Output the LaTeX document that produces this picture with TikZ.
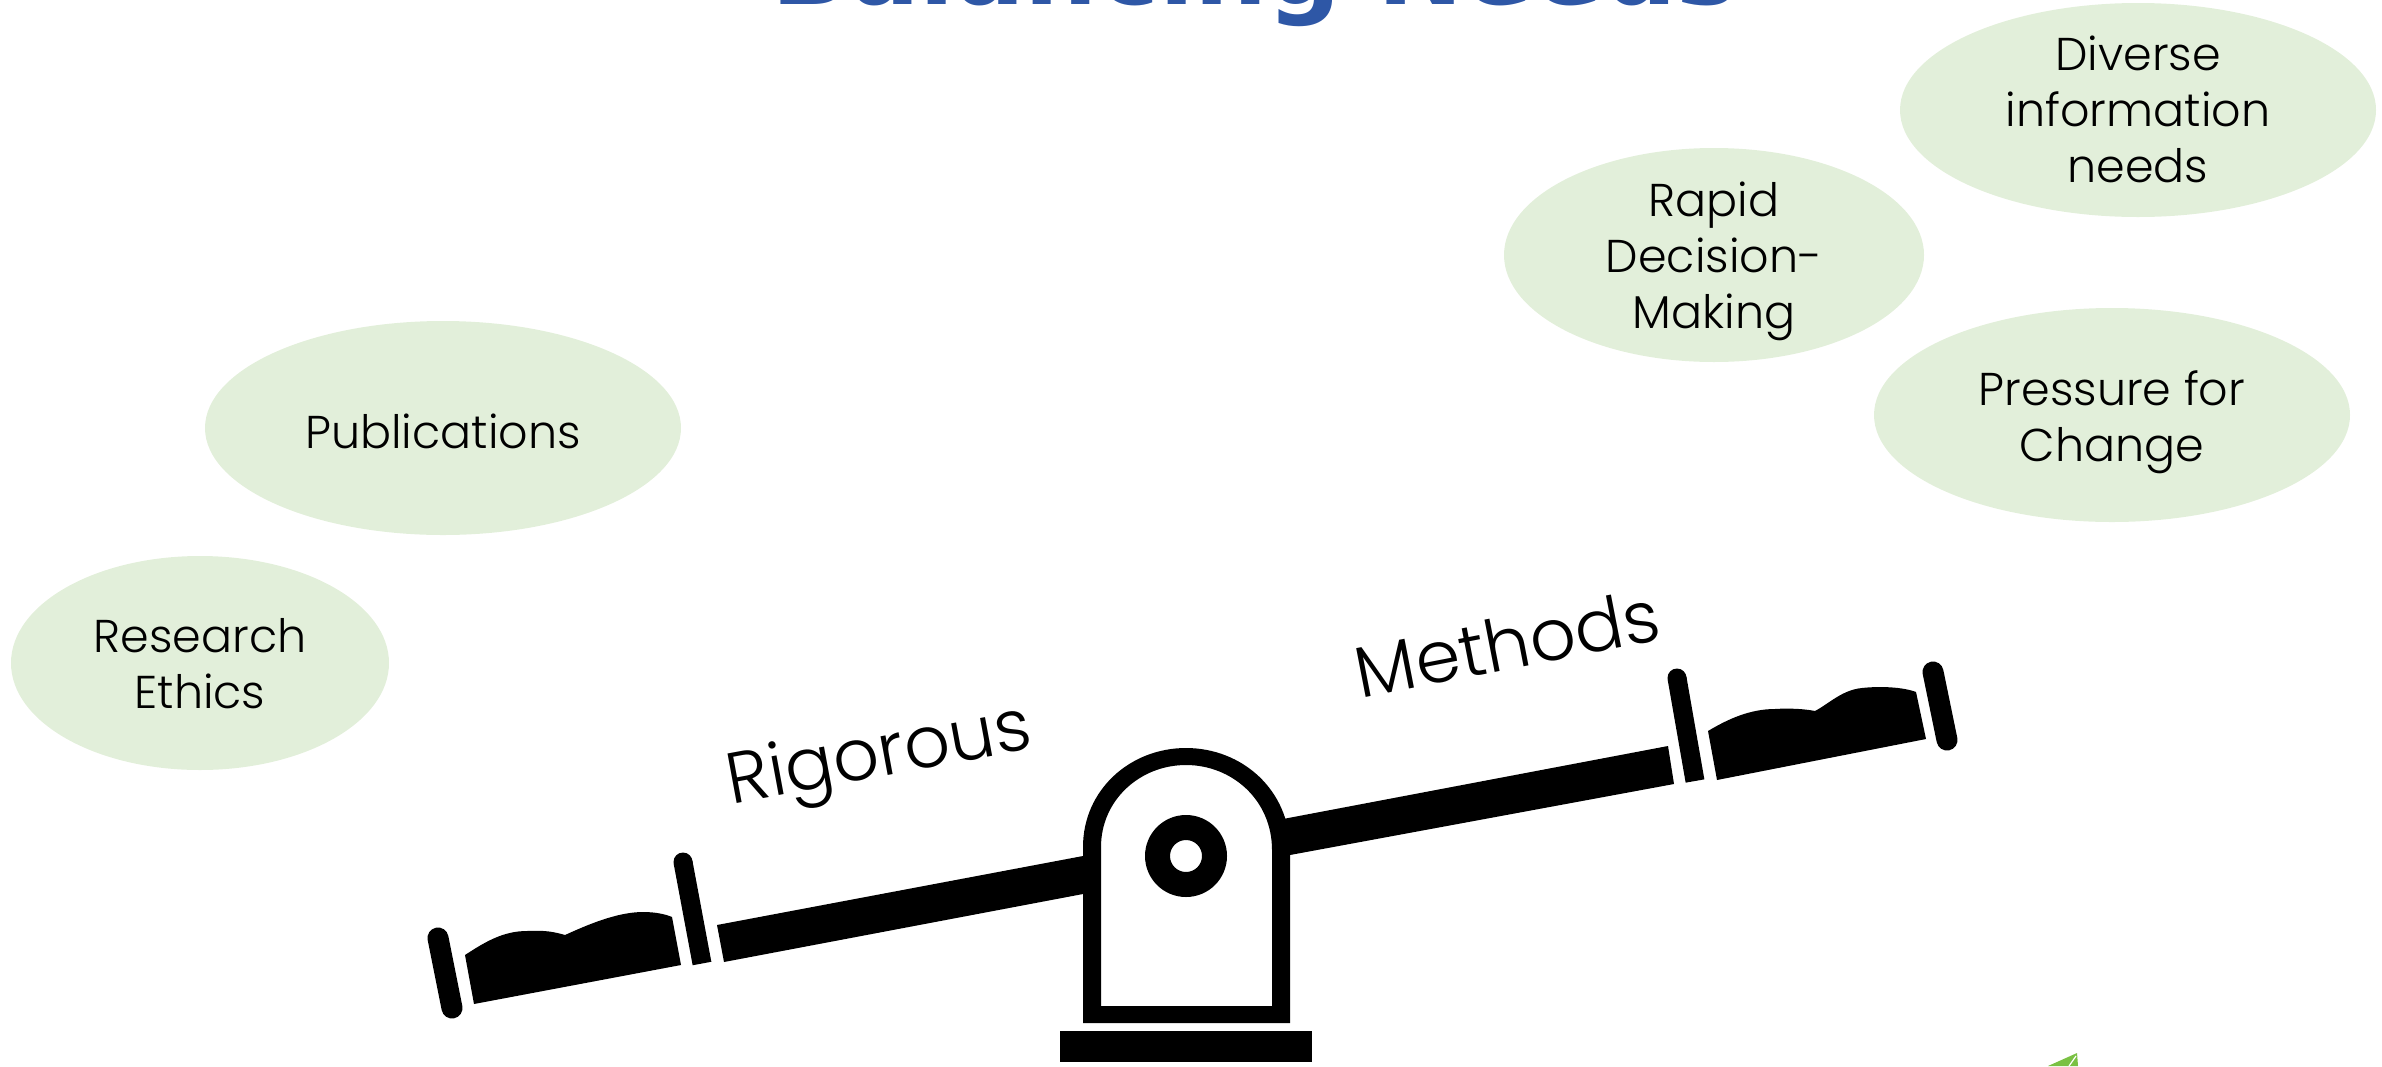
\documentclass[tikz,border=0pt]{standalone}
\usepackage{fontspec}
\setmainfont{Poppins Light}
\newfontfamily\titlefont{DejaVu Sans}
\definecolor{bubble}{HTML}{E2EFDA}
\definecolor{titleblue}{HTML}{2E57A6}
\definecolor{leaf}{HTML}{7AC143}
\newcommand\bubtext[2]{\raisebox{0pt}[\dimexpr\height+#1+#1\relax][\depth]{\begin{tabular}{@{}c@{}}#2\end{tabular}}}
\usetikzlibrary{shapes.geometric}
\tikzset{
  bubble/.style={ellipse,fill=bubble,inner sep=-25pt,minimum height=107pt,align=center,font=\fontsize{23}{28}\selectfont,text=black},
  beamlabel/.style={font=\fontsize{36}{40}\selectfont,text=black},
  rail/.style={line width=10.5pt,line cap=round,black},
  post/.style={line width=9.5pt,black},
}
\begin{document}
\begin{tikzpicture}[x=0.5pt,y=-0.5pt]
\useasboundingbox (0,0) rectangle (2382,1066);
\clip (0,0) rectangle (2382,1066);
\node[anchor=base,font=\titlefont\bfseries\fontsize{51.5}{56}\selectfont,text=titleblue,inner sep=0pt] (title) at (1255,4) {Balancing Needs};
\node[bubble,minimum width=238pt] (pub) at (443,428) {\bubtext{4.5pt}{Publications}};
\node[bubble,minimum width=189pt] (eth) at (200,663) {\bubtext{3pt}{Research\\Ethics}};
\node[bubble,minimum width=210pt] (rap) at (1714,255) {\bubtext{3pt}{Rapid\\Decision-\\Making}};
\node[bubble,minimum width=238pt] (div) at (2138,110) {\bubtext{2.7pt}{Diverse\\information\\needs}};
\node[bubble,minimum width=238pt] (pre) at (2112,415) {\bubtext{3.8pt}{Pressure for\\Change}};
\node[beamlabel,rotate=10.5] (rig) at (880,759) {Rigorous};
\node[beamlabel,rotate=11] (met) at (1507,643) {Methods};
% beam
\fill (717,925) -- (724,962) -- (1083,894) -- (1083,856) -- cycle;
\fill (1283,819) -- (1290,855) -- (1674,784) -- (1668,746) -- cycle;
% pivot
\fill[even odd rule] (1083,1023) -- (1083,847) .. controls (1083,790) and (1130,748) .. (1186,748) .. controls (1242,748) and (1290,790) .. (1290,850) -- (1290,1023) -- cycle
 (1101,1006) -- (1101,847) .. controls (1101,800) and (1140,765) .. (1186,765) .. controls (1232,765) and (1272,800) .. (1272,850) -- (1272,1006) -- cycle;
\fill[even odd rule] (1186,856) circle[radius=41] (1186,856) circle[radius=16];
\fill (1060,1031) rectangle (1312,1062);
% left seat
\draw[rail] (438,938) -- (452,1008);
\fill (465,955) .. controls (485,942) and (503,931) .. (527,931) .. controls (545,930) and (555,932) .. (565,935) .. controls (587,925) and (617,912) .. (643,912) .. controls (655,912) and (665,914) .. (672,917) -- (681,965) -- (474,1004) -- cycle;
\draw[post] (683,862) -- (702,963.5);
\fill (683,862) circle[radius=9.5];
% right seat
\draw[rail] (1933,672) -- (1947,740);
\fill (1708,731) .. controls (1728,719) and (1750,709) .. (1775,709) .. controls (1790,708) and (1805,709) .. (1815,711) .. controls (1830,703) and (1842,690) .. (1862,688) .. controls (1880,686) and (1903,687) .. (1916,692) -- (1926,739) -- (1717,780) -- cycle;
\draw[post] (1677,678) -- (1695,781);
\fill (1677,678) circle[radius=9.5];
% corner shape
\fill[leaf] (2048,1066) -- (2077,1053) -- (2078,1066) -- cycle;
\draw[white,line width=0.6pt] (2069,1066) -- (2076,1056);
\end{tikzpicture}
\end{document}
